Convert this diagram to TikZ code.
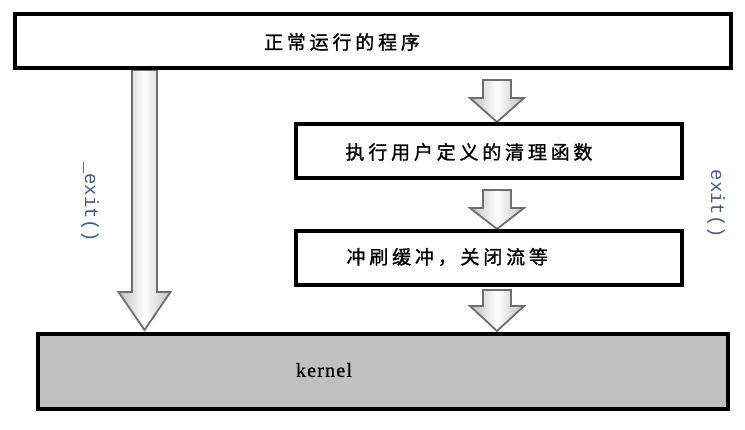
\documentclass[tikz,border=0pt]{standalone}
\usepackage{fontspec}
\setmainfont{Liberation Serif}
\setmonofont{Liberation Mono}
\newfontfamily\cjk[FakeBold=1.2,LetterSpace=20]{Noto Sans CJK SC}
\newfontfamily\kernfont[FakeBold=0.8,LetterSpace=6]{Liberation Serif}
\usetikzlibrary{calc}
\definecolor{kgray}{RGB}{192,192,192}
\definecolor{lblue}{RGB}{70,90,140}
\definecolor{agray}{RGB}{110,110,110}
\tikzset{
  box/.style={draw=black, line width=4pt, minimum height=54pt, inner sep=0pt},
  cjktext/.style={font=\cjk\fontsize{19}{22}\selectfont, text=black},
  sidelabel/.style={font=\ttfamily\fontsize{19}{21}\selectfont, text=lblue, rotate=-90},
  blockarrow/.style={draw=agray, line width=1.8pt, left color=agray!45, right color=agray!45, middle color=white, line join=miter},
}
% #1 centre x, #2 top y, #3 head start y, #4 tip y, #5 shaft half, #6 head half
\newcommand\myblockarrow[6]{%
  \path[blockarrow] (#1-#5,#2) -- (#1+#5,#2) -- (#1+#5,#3) -- (#1+#6,#3) -- (#1,#4)
     -- (#1-#6,#3) -- (#1-#5,#3) -- cycle;}
\begin{document}
\begin{tikzpicture}[x=1pt,y=-1pt]
\useasboundingbox (0,0) rectangle (745,429);
\fill[white] (0,0) rectangle (745,429);
% arrows first so boxes overlap their ends
\myblockarrow{144.5}{70}{292}{330}{12.5}{26}
\myblockarrow{497}{80}{98}{122}{14}{27}
\myblockarrow{497}{190}{208}{229}{14}{27}
\myblockarrow{497}{290}{306}{331}{14}{27}
% boxes
\node[box, minimum width=716pt] (prog) at (373,41) {};
\node[cjktext] (progt) at (342,42) {正常运行的程序};
\node[box, minimum width=386pt] (clean) at (489,151) {};
\node[cjktext, anchor=west] (cleant) at (342,152) {执行用户定义的清理函数};
\node[box, minimum width=386pt] (flush) at (489,258) {};
\node[cjktext, anchor=west] (flusht) at (343,257) {冲刷缓冲，关闭流等};
\node[box, fill=kgray, minimum width=690pt, minimum height=75pt] (kernel) at (383,371) {};
\node[font=\kernfont\fontsize{20}{22}\selectfont] (kernelt) at (324,370) {kernel};
% side labels
\node[sidelabel] (exitl) at (90,202) {\_exit()};
\node[sidelabel] (exitr) at (716,204) {exit()};
\end{tikzpicture}
\end{document}
